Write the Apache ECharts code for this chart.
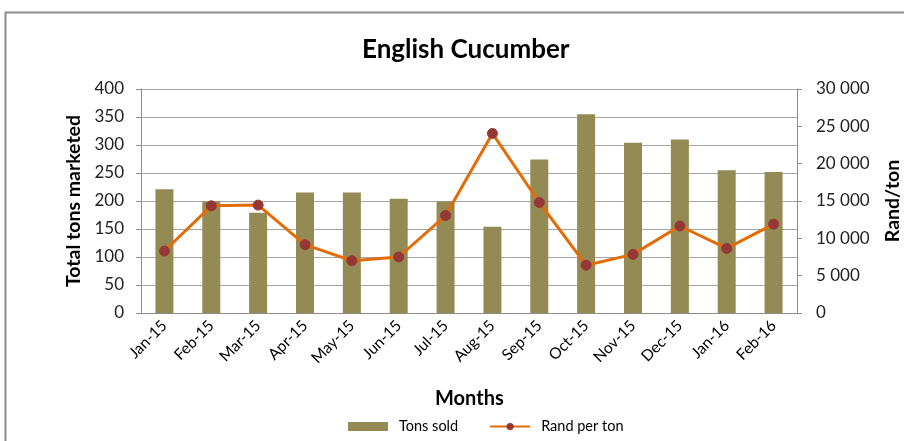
<!DOCTYPE html>
<html>
<head>
<meta charset="utf-8">
<script src="https://cdn.jsdelivr.net/npm/echarts@6/dist/echarts.min.js"></script>
<style>
  html, body { margin: 0; padding: 0; background: #fff; }
  #chart { width: 904px; height: 441px; }
</style>
</head>
<body>
<div id="chart"></div>
<script>
const months = ['Jan-15', 'Feb-15', 'Mar-15', 'Apr-15', 'May-15', 'Jun-15', 'Jul-15',
  'Aug-15', 'Sep-15', 'Oct-15', 'Nov-15', 'Dec-15', 'Jan-16', 'Feb-16'];
const tonsSold = [221, 199, 179, 215, 215, 204, 199, 154, 274, 355, 304, 310, 255, 252];
const randPerTon = [8300, 14350, 14450, 9150, 7000, 7500, 13050, 24050, 14800, 6400, 7850, 11650, 8650, 11900];

const myChart = echarts.init(document.getElementById('chart'));
const font = 'Lato, "Open Sans", sans-serif';
const option = {
  textStyle: { fontFamily: font },
  animation: false,
  title: {
    text: 'English Cucumber',
    left: 357,
    top: 32,
    textStyle: { fontFamily: font, fontSize: 26, fontWeight: 'bold', color: '#000' }
  },
  graphic: [
    {
      type: 'rect',
      shape: { x: 5.5, y: 12.5, width: 910, height: 440 },
      style: { fill: 'none', stroke: '#8c8c8c', lineWidth: 2 }
    },
    {
      type: 'text',
      left: 435,
      top: 389,
      style: { text: 'Months', font: 'bold 20px Lato, sans-serif', fill: '#000' }
    }
  ],
  legend: {
    bottom: 2,
    left: 343,
    itemGap: 31,
    itemWidth: 40,
    itemHeight: 9,
    textStyle: { fontFamily: font, fontSize: 14.5, color: '#000', padding: [0, 0, 0, 6] },
    data: [
      { name: 'Tons sold', icon: 'rect' },
      { name: 'Rand per ton' }
    ]
  },
  grid: { left: 141, right: 107, top: 89, bottom: 128, containLabel: false, outerBoundsMode: 'none' },
  xAxis: {
    type: 'category',
    data: months,
    axisLine: { lineStyle: { color: '#8c8c8c' } },
    axisTick: { show: false },
    axisLabel: { rotate: 45, fontSize: 15.5, color: '#000', margin: 10, interval: 0 }
  },
  yAxis: [
    {
      type: 'value',
      min: 0,
      max: 400,
      interval: 50,
      name: 'Total tons marketed',
      nameLocation: 'middle',
      nameGap: 55,
      nameTextStyle: { fontSize: 19.5, fontWeight: 'bold', color: '#000' },
      axisLine: { show: true, lineStyle: { color: '#8c8c8c' } },
      axisTick: { show: true, length: 5, lineStyle: { color: '#8c8c8c' } },
      axisLabel: { fontSize: 17, color: '#222', margin: 17 },
      splitLine: { lineStyle: { color: '#a6a6a6' } }
    },
    {
      type: 'value',
      min: 0,
      max: 30000,
      interval: 5000,
      name: 'Rand/ton',
      nameLocation: 'middle',
      nameGap: 86,
      nameRotate: 90,
      nameTextStyle: { fontSize: 19.5, fontWeight: 'bold', color: '#000' },
      axisLine: { show: true, lineStyle: { color: '#8c8c8c' } },
      axisTick: { show: true, length: 5, lineStyle: { color: '#8c8c8c' } },
      axisLabel: {
        fontSize: 17, color: '#222', margin: 19,
        formatter: v => String(v).replace(/\B(?=(\d{3})+(?!\d))/g, ' ')
      },
      splitLine: { show: false }
    }
  ],
  series: [
    {
      name: 'Tons sold',
      type: 'bar',
      data: tonsSold,
      barWidth: 18,
      itemStyle: { color: '#948a54' }
    },
    {
      name: 'Rand per ton',
      type: 'line',
      yAxisIndex: 1,
      data: randPerTon,
      symbol: 'circle',
      symbolSize: 10,
      lineStyle: { color: '#e36c09', width: 3 },
      itemStyle: { color: '#953735', borderColor: '#953735' }
    }
  ]
};
myChart.setOption(option);
</script>
</body>
</html>
